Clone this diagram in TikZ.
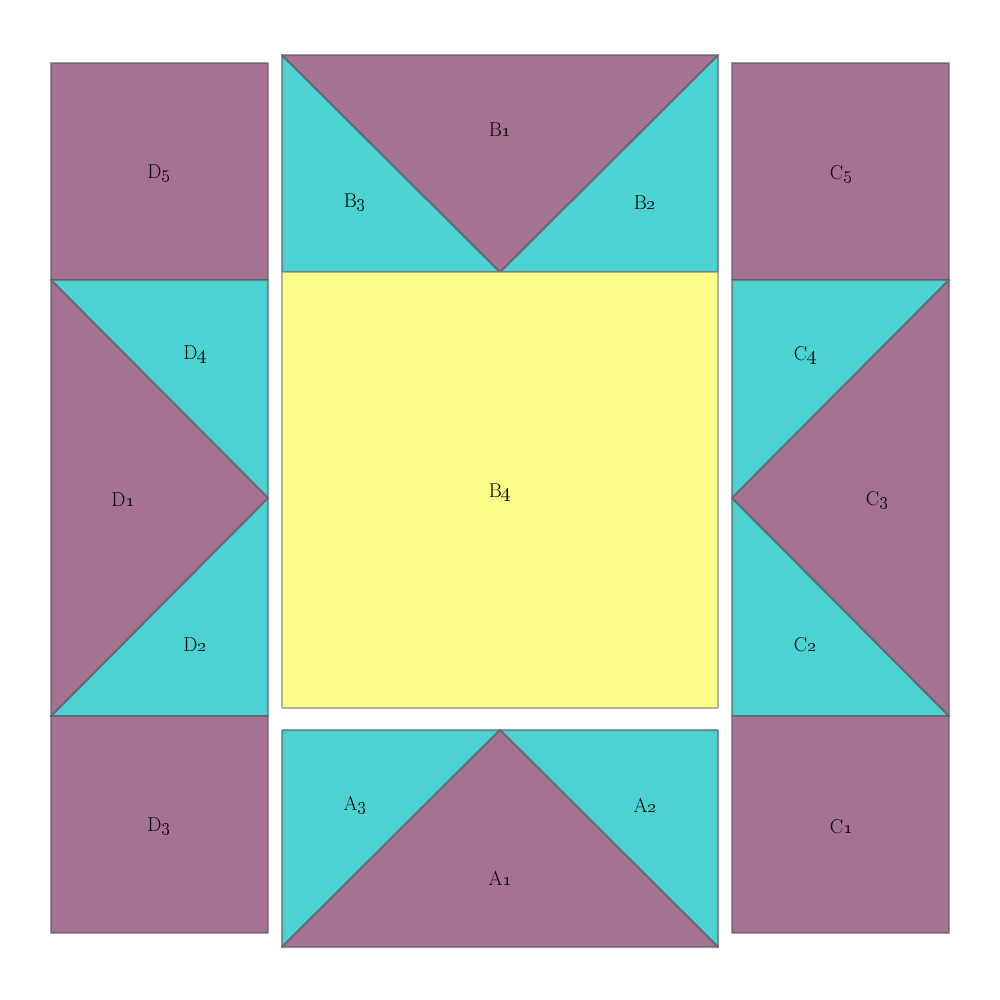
\documentclass[tikz,border=0pt]{standalone}
\usetikzlibrary{calc}
\definecolor{pur}{RGB}{166,114,146}
\definecolor{cya}{RGB}{77,210,210}
\definecolor{yel}{RGB}{250,254,134}
\definecolor{edg}{RGB}{90,90,100}
\tikzset{
  piece/.style={draw=edg, draw opacity=0.6, line width=1.5pt, line join=round},
  pp/.style={piece, fill=pur},
  cp/.style={piece, fill=cya},
  yp/.style={piece, fill=yel, draw=gray, draw opacity=0.6},
  lab/.style={font=\fontsize{15}{17}\selectfont, inner sep=0pt, text=black}
}
\newcommand{\lb}[2]{#1\oldstylenums{#2}}
\begin{document}
\begin{tikzpicture}[x=0.75pt,y=-0.75pt]
\useasboundingbox (0,0) rectangle (1000,1000);
\fill[white] (0,0) rectangle (1000,1000);
% D column
\draw[pp] (51,63) rectangle (268,280);
\draw[cp] (51,280) -- (268,280) -- (268,498) -- cycle;
\draw[cp] (268,498) -- (268,716) -- (51,716) -- cycle;
\draw[pp] (51,280) -- (268,498) -- (51,716) -- cycle;
\draw[pp] (51,716) rectangle (268,933);
% C column
\draw[pp] (732,63) rectangle (949,280);
\draw[cp] (732,280) -- (949,280) -- (732,498) -- cycle;
\draw[cp] (732,498) -- (949,716) -- (732,716) -- cycle;
\draw[pp] (949,280) -- (949,716) -- (732,498) -- cycle;
\draw[pp] (732,716) rectangle (949,933);
% B group
\draw[cp] (282,55) -- (500,272) -- (282,272) -- cycle;
\draw[cp] (718,55) -- (718,272) -- (500,272) -- cycle;
\draw[pp] (282,55) -- (718,55) -- (500,272) -- cycle;
% B4
\draw[yp] (282,272) rectangle (718,708);
% A group
\draw[cp] (282,730) -- (500,730) -- (282,947) -- cycle;
\draw[cp] (500,730) -- (718,730) -- (718,947) -- cycle;
\draw[pp] (282,947) -- (718,947) -- (500,730) -- cycle;
% labels
\node[lab] (d5) at (159,174) {\lb{D}{5}};
\node[lab] (d4) at (195,355) {\lb{D}{4}};
\node[lab] (d1) at (123,500) {\lb{D}{1}};
\node[lab] (d2) at (195,645) {\lb{D}{2}};
\node[lab] (d3) at (159,827) {\lb{D}{3}};
\node[lab] (c5) at (841,174) {\lb{C}{5}};
\node[lab] (c4) at (805,355) {\lb{C}{4}};
\node[lab] (c3) at (877,500) {\lb{C}{3}};
\node[lab] (c2) at (805,645) {\lb{C}{2}};
\node[lab] (c1) at (841,827) {\lb{C}{1}};
\node[lab] (b1) at (500,130) {\lb{B}{1}};
\node[lab] (b3) at (355,203) {\lb{B}{3}};
\node[lab] (b2) at (645,203) {\lb{B}{2}};
\node[lab] (b4) at (500,493) {\lb{B}{4}};
\node[lab] (a3) at (355,805) {\lb{A}{3}};
\node[lab] (a2) at (645,805) {\lb{A}{2}};
\node[lab] (a1) at (500,878) {\lb{A}{1}};
\end{tikzpicture}
\end{document}
